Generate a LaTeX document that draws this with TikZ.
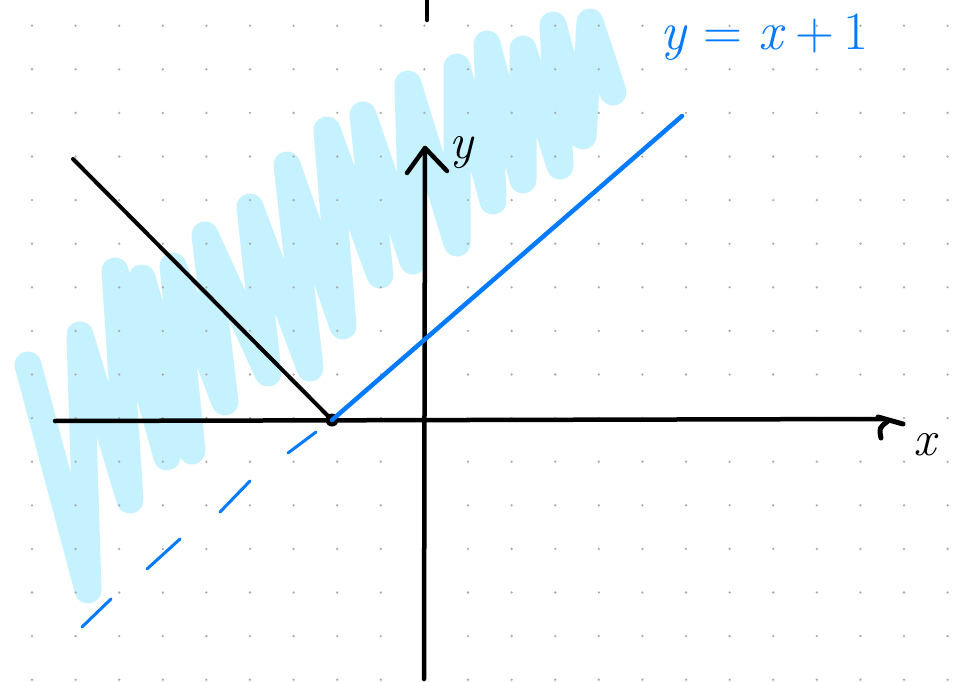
\documentclass[tikz,border=0pt]{standalone}
\usepackage{fontspec}
\definecolor{scrib}{RGB}{197,242,254}
\definecolor{pen}{RGB}{0,122,255}
\definecolor{dotc}{RGB}{172,172,172}
\begin{document}
\begin{tikzpicture}[x=1pt,y=-1pt,
  axis/.style={line width=4.5pt, line cap=round, line join=round, black},
  blueline/.style={line width=4.5pt, line cap=round, pen},
  dashseg/.style={line width=3pt, line cap=round, pen},
  scribble/.style={line width=27pt, line cap=round, line join=round, scrib},
  gdot/.style={fill=dotc},
  lab/.style={inner sep=0pt, font=\fontsize{50}{50}\selectfont\itshape}]
\useasboundingbox[fill=white] (0,0) rectangle (959,682);
% highlighted scribble
\draw[scribble] (28,365) -- (88,590) -- (80,335) -- (130,500) -- (115,271) -- (167,457)
  -- (142,278) -- (192,451) -- (173,266) -- (225,402) -- (205,235) -- (268,373)
  -- (250,207) -- (310,368) -- (287,165) -- (343,326) -- (327,130) -- (380,275)
  -- (363,115) -- (413,261) -- (408,84) -- (457,243) -- (457,67) -- (493,201)
  -- (487,44) -- (523,180) -- (523,49) -- (560,166) -- (553,25) -- (583,136)
  -- (590,22) -- (613,92);
% dot grid
\foreach \i in {0,...,21}{\foreach \j in {0,...,15}{
  \fill[gdot] ({32+43.6*\i},{25.7+43.6*\j}) circle (1.3pt);}}
% named points
\coordinate (xl) at (55,421);
\coordinate (xr) at (883,419);
\coordinate (yb) at (424,679);
\coordinate (yt) at (425,148);
\coordinate (O) at (332,420);
\coordinate (A) at (73,159);
\coordinate (B) at (682,116);
\coordinate (st1) at (427,0);
\coordinate (st2) at (427,20);
% axes
\draw[axis] (xl) -- (xr);
\draw[axis, line width=5pt] (878,417) -- (903,424);
\draw[axis, line width=5pt] (888,421) .. controls (879,428) .. (881,438);
\draw[axis] (yb) -- (yt);
\draw[axis] (407,173) -- (yt) -- (447,171);
\draw[axis] (st1) -- (st2);
% graphs
\draw[axis, line width=4pt] (A) -- (O);
\fill[black] (O) circle (6.5pt);
\draw[blueline] (O) -- (B);
\draw[dashseg] (288,453) -- (316,432);
\draw[dashseg] (220,512) -- (250,481);
\draw[dashseg] (147,569) -- (180,539);
\draw[dashseg] (82,627) -- (111,599);
% labels
\node[lab] (xlab) at (925,445) {x};
\node[lab] (ylab) at (461,153) {y};
\node[lab, pen, anchor=base, font=\fontsize{54}{54}\selectfont] (eq) at (764,50) {\textit{y} = \textit{x}\,+\,1};
\end{tikzpicture}
\end{document}
